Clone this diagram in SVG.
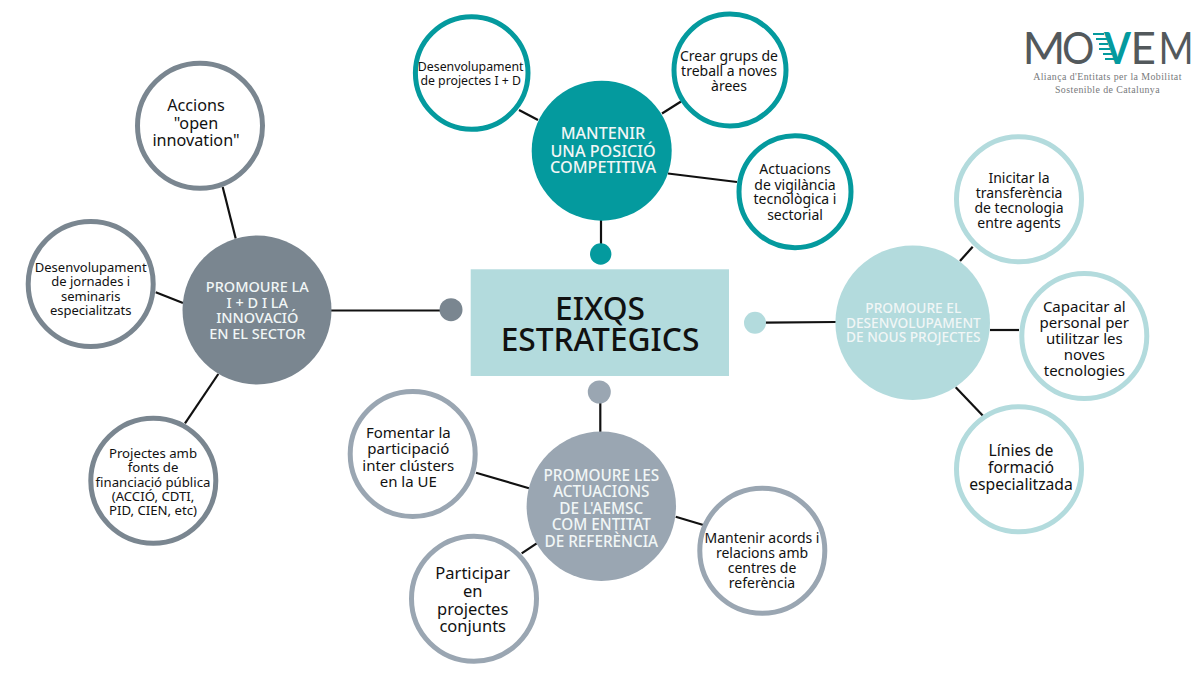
<svg xmlns="http://www.w3.org/2000/svg" width="1200" height="675" viewBox="0 0 1200 675">
<style>
text{font-family:"Noto Sans","Open Sans","DejaVu Sans",sans-serif;text-anchor:middle;fill:#111}
.ring{fill:#fff;stroke-width:5}
.hub{fill:#f1f6f6;font-weight:500}
.c1{stroke:#049a9e}.c2{stroke:#7a8690}.c3{stroke:#9aa6b2}.c4{stroke:#b3dbdd}
.f1{fill:#049a9e}.f2{fill:#7a8690}.f3{fill:#9aa6b2}.f4{fill:#b3dbdd}
#connectors line{stroke:#111;stroke-width:2.2;stroke-linecap:butt}
.logo text{font-family:"Lato","Inter",sans-serif;font-weight:400;font-size:44px;text-anchor:start;fill:#53595c}
.logo text.sub{font-family:"Liberation Serif",serif;font-size:9.9px;font-weight:400;text-anchor:middle;fill:#77797b;letter-spacing:.42px}
.logo rect{fill:#049a9e}
</style>
<rect width="1200" height="675" fill="#fff"/>
<g id="connectors">
<line x1="519" y1="110" x2="538" y2="120"/><line x1="662" y1="113.5" x2="681" y2="101.5"/><line x1="668" y1="173.5" x2="737" y2="182"/><line x1="601" y1="220" x2="601" y2="245"/>
<line x1="222.7" y1="187" x2="235.7" y2="238.5"/><line x1="155.7" y1="292.3" x2="183" y2="303"/><line x1="218.3" y1="374" x2="185" y2="423.3"/><line x1="331" y1="310.5" x2="441" y2="310.5"/>
<line x1="972.7" y1="246.7" x2="960" y2="261"/><line x1="990" y1="330" x2="1019" y2="330"/><line x1="955.7" y1="387.3" x2="985.3" y2="418.3"/><line x1="765" y1="322.7" x2="836" y2="322"/>
<line x1="600.3" y1="402" x2="600.3" y2="432"/><line x1="476" y1="472.7" x2="529" y2="488.3"/><line x1="521.7" y1="553.3" x2="536.7" y2="543.3"/><line x1="675.7" y1="516.7" x2="706.7" y2="526"/>
</g>
<g id="center"><rect x="470.7" y="269.3" width="258.3" height="106.7" class="f4"/>
<text font-size="31.7" font-weight="500"><tspan x="600" y="319.5">EIXOS</tspan><tspan x="600" y="351">ESTRATÈGICS</tspan></text></g>

<g id="dot-top"><circle cx="600.7" cy="254" r="10.7" class="f1"/></g>
<g id="dot-left"><circle cx="451" cy="309.7" r="11.5" class="f2"/></g>
<g id="dot-right"><circle cx="755" cy="322.7" r="11" class="f4"/></g>
<g id="dot-bottom"><circle cx="599.3" cy="392" r="11.5" class="f3"/></g>

<g id="hub-mantenir"><circle cx="601.7" cy="150.7" r="70" class="f1"/>
<text class="hub" font-size="16.2"><tspan x="603" y="139.3">MANTENIR</tspan><tspan x="603" y="156.7">UNA POSICIÓ</tspan><tspan x="603" y="173.3">COMPETITIVA</tspan></text></g>
<g id="n-desenv-id"><circle cx="471.7" cy="73" r="56.3" class="ring c1"/>
<text font-size="12.3"><tspan x="470.7" y="71">Desenvolupament</tspan><tspan x="470.7" y="85">de projectes I + D</tspan></text></g>
<g id="n-crear"><circle cx="730" cy="70" r="56" class="ring c1"/>
<text font-size="14"><tspan x="729" y="61">Crear grups de</tspan><tspan x="729" y="76">treball a noves</tspan><tspan x="729" y="91">àrees</tspan></text></g>
<g id="n-actuacions"><circle cx="795" cy="191.7" r="56" class="ring c1"/>
<text font-size="14"><tspan x="795" y="174.3">Actuacions</tspan><tspan x="795" y="189.7">de vigilància</tspan><tspan x="795" y="204.3">tecnològica i</tspan><tspan x="795" y="219.7">sectorial</tspan></text></g>

<g id="hub-innovacio"><circle cx="257" cy="310" r="74.5" class="f2"/>
<text class="hub" font-size="14.5"><tspan x="257.3" y="292.3">PROMOURE LA</tspan><tspan x="257.3" y="307.7">I + D I LA</tspan><tspan x="257.3" y="323.3">INNOVACIÓ</tspan><tspan x="257.3" y="339">EN EL SECTOR</tspan></text></g>
<g id="n-accions"><circle cx="200" cy="125.7" r="62.5" class="ring c2"/>
<text font-size="16.2"><tspan x="196" y="111">Accions</tspan><tspan x="196" y="128.5">"open</tspan><tspan x="196" y="146">innovation"</tspan></text></g>
<g id="n-jornades"><circle cx="90.7" cy="284" r="62.5" class="ring c2"/>
<text font-size="13"><tspan x="90.7" y="271.7">Desenvolupament</tspan><tspan x="90.7" y="286">de jornades i</tspan><tspan x="90.7" y="300.5">seminaris</tspan><tspan x="90.7" y="315">especialitzats</tspan></text></g>
<g id="n-projectes"><circle cx="153.3" cy="480.7" r="62.5" class="ring c2"/>
<text font-size="13.2"><tspan x="153" y="457.7">Projectes amb</tspan><tspan x="153" y="472">fonts de</tspan><tspan x="153" y="486.5">financiació pública</tspan><tspan x="153" y="501">(ACCIÓ, CDTI,</tspan><tspan x="153" y="515">PID, CIEN, etc)</tspan></text></g>

<g id="hub-desenvolupament"><circle cx="912.7" cy="322.7" r="77.3" class="f4"/>
<text class="hub" font-size="13.7"><tspan x="913.3" y="313.3">PROMOURE EL</tspan><tspan x="913.3" y="327.7">DESENVOLUPAMENT</tspan><tspan x="913.3" y="342">DE NOUS PROJECTES</tspan></text></g>
<g id="n-inicitar"><circle cx="1019" cy="199.3" r="62.5" class="ring c4"/>
<text font-size="14"><tspan x="1019" y="183.3">Inicitar la</tspan><tspan x="1019" y="197.7">transferència</tspan><tspan x="1019" y="213">de tecnologia</tspan><tspan x="1019" y="227.7">entre agents</tspan></text></g>
<g id="n-capacitar"><circle cx="1084.3" cy="336" r="62.5" class="ring c4"/>
<text font-size="15"><tspan x="1084.3" y="311.7">Capacitar al</tspan><tspan x="1084.3" y="327.7">personal per</tspan><tspan x="1084.3" y="344">utilitzar les</tspan><tspan x="1084.3" y="360.3">noves</tspan><tspan x="1084.3" y="376.3">tecnologies</tspan></text></g>
<g id="n-linies"><circle cx="1019" cy="469.3" r="62.5" class="ring c4"/>
<text font-size="15.7"><tspan x="1021" y="456">Línies de</tspan><tspan x="1021" y="473.3">formació</tspan><tspan x="1021" y="490.3">especialitzada</tspan></text></g>

<g id="hub-actuacions"><circle cx="601.3" cy="506.3" r="74.7" class="f3"/>
<text class="hub" font-size="15.3"><tspan x="601.3" y="480.7">PROMOURE LES</tspan><tspan x="601.3" y="497">ACTUACIONS</tspan><tspan x="601.3" y="513.7">DE L'AEMSC</tspan><tspan x="601.3" y="530">COM ENTITAT</tspan><tspan x="601.3" y="546.7">DE REFERÈNCIA</tspan></text></g>
<g id="n-fomentar"><circle cx="412.7" cy="454" r="62.5" class="ring c3"/>
<text font-size="15"><tspan x="408.3" y="438.3">Fomentar la</tspan><tspan x="408.3" y="454.3">participació</tspan><tspan x="408.3" y="471">inter clústers</tspan><tspan x="408.3" y="487">en la UE</tspan></text></g>
<g id="n-participar"><circle cx="474" cy="598.7" r="62.5" class="ring c3"/>
<text font-size="16.5"><tspan x="472.7" y="579.3">Participar</tspan><tspan x="472.7" y="597.3">en</tspan><tspan x="472.7" y="615">projectes</tspan><tspan x="472.7" y="631.7">conjunts</tspan></text></g>
<g id="n-mantenir"><circle cx="762.3" cy="550.7" r="62.5" class="ring c3"/>
<text font-size="14"><tspan x="762" y="543.3">Mantenir acords i</tspan><tspan x="762" y="558.3">relacions amb</tspan><tspan x="762" y="573.3">centres de</tspan><tspan x="762" y="588.3">referència</tspan></text></g>

<g id="logo" class="logo">
<text transform="translate(1022.5,64) scale(1.05,1)">M</text>
<text transform="translate(1062,64) scale(.92,1)">O</text>
<rect x="1093" y="33" width="11" height="2"/><rect x="1096" y="38" width="11" height="2"/><rect x="1099" y="43" width="9" height="2"/><rect x="1099" y="48" width="11" height="2"/><rect x="1103" y="53" width="9" height="2"/><rect x="1105" y="58" width="9" height="2"/>
<text transform="translate(1104,64) scale(.88,1)" style="fill:#049a9e;font-weight:700">V</text>
<text x="1130.5" y="64">E</text>
<text transform="translate(1158.5,64) scale(.86,1)">M</text>
<text class="sub" x="1107.5" y="79.5">Aliança d'Entitats per la Mobilitat</text>
<text class="sub" x="1107.5" y="92.5">Sostenible de Catalunya</text>
</g>
</svg>
